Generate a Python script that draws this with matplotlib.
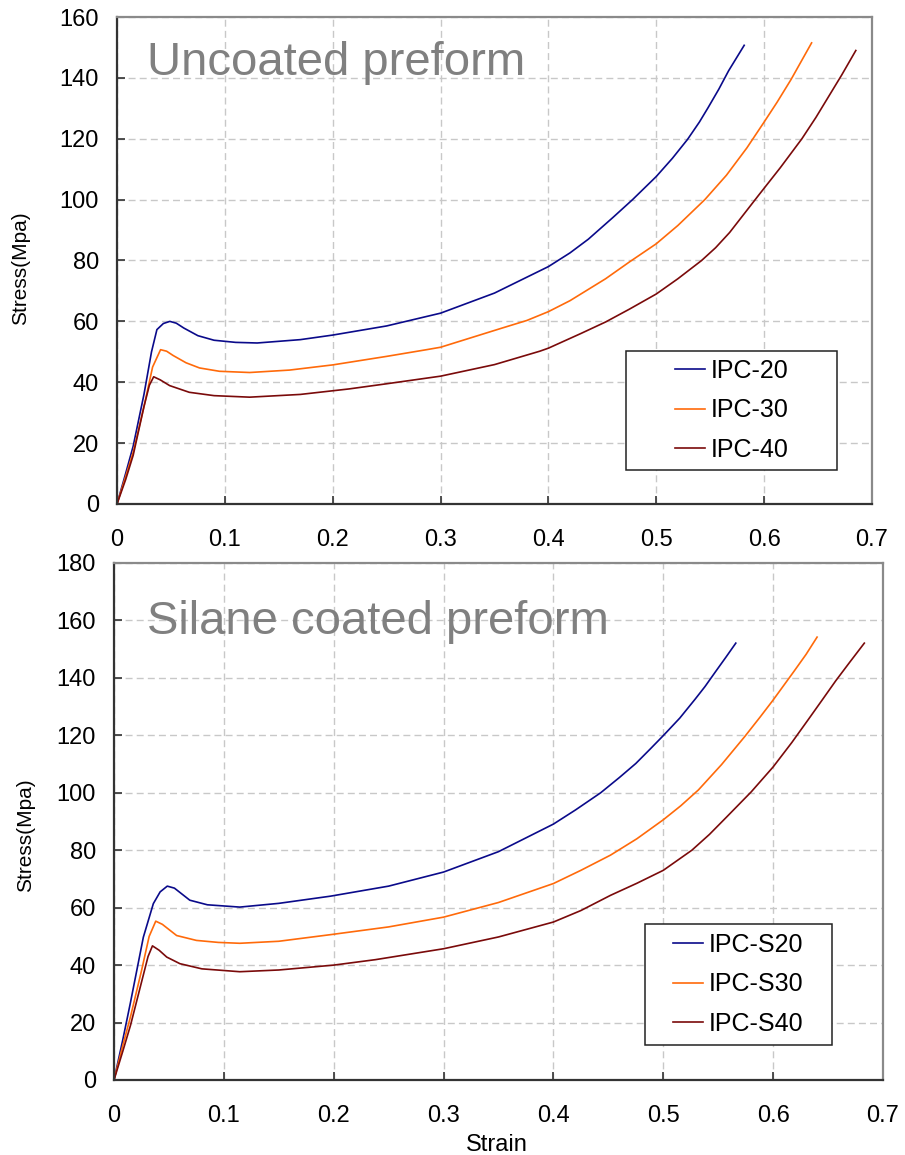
import matplotlib
matplotlib.use("Agg")
import matplotlib.pyplot as plt
from matplotlib.patches import Rectangle

plt.rcParams['font.family'] = ['Liberation Sans', 'DejaVu Sans']

# Uncoated preform curves
strain_20 = [0, 0.008, 0.015, 0.025, 0.032, 0.037, 0.043, 0.049, 0.055, 0.062, 0.075, 0.09,
             0.11, 0.13, 0.17, 0.2, 0.25, 0.3, 0.35, 0.4, 0.42, 0.437, 0.46, 0.478, 0.5,
             0.515, 0.529, 0.54, 0.548, 0.558, 0.567, 0.5815]
stress_20 = [0, 10, 19, 36, 50, 57.3, 59.3, 60, 59.4, 57.8, 55.3, 53.8,
             53.1, 52.9, 54, 55.5, 58.5, 62.7, 69.3, 78, 82.5, 87, 94.2, 100, 107.6,
             113.6, 119.8, 125.5, 130.2, 136.3, 142.3, 150.7]

strain_30 = [0, 0.008, 0.015, 0.025, 0.033, 0.0404, 0.046, 0.052, 0.064, 0.0765, 0.095, 0.123,
             0.16, 0.2, 0.25, 0.287, 0.3, 0.357, 0.38, 0.4, 0.42, 0.453, 0.475, 0.5, 0.52,
             0.545, 0.565, 0.584, 0.6, 0.612, 0.625, 0.644]
stress_30 = [0, 9, 17, 32, 45, 50.7, 50.2, 48.8, 46.4, 44.7, 43.6, 43.2,
             44, 45.7, 48.5, 50.7, 51.5, 57.8, 60.3, 63.2, 66.8, 74, 79.5, 85.5, 91.5,
             100, 108, 117, 125.5, 132, 139.5, 151.5]

strain_40 = [0, 0.008, 0.015, 0.025, 0.030, 0.034, 0.040, 0.0488, 0.067, 0.09, 0.123, 0.17,
             0.215, 0.25, 0.3, 0.35, 0.392, 0.4, 0.43, 0.453, 0.475, 0.5, 0.52, 0.542, 0.555,
             0.568, 0.595, 0.615, 0.635, 0.648, 0.66, 0.672, 0.685]
stress_40 = [0, 8, 16, 32, 39, 41.8, 40.8, 38.9, 36.7, 35.6, 35.1, 36,
             37.8, 39.5, 42, 45.8, 50.2, 51.2, 56, 59.8, 64, 69, 74, 80, 84.2,
             89.2, 101.5, 110.5, 120, 127, 134, 141, 149]

# Silane coated preform curves
strain_s20 = [0, 0.008, 0.015, 0.0267, 0.0358, 0.042, 0.0485, 0.055, 0.069, 0.085, 0.1145,
              0.15, 0.197, 0.25, 0.3, 0.35, 0.4, 0.42, 0.443, 0.46, 0.475, 0.488, 0.5, 0.515,
              0.529, 0.538, 0.548, 0.557, 0.566]
stress_s20 = [0, 14, 27, 49.7, 61.4, 65.5, 67.5, 66.8, 62.6, 61, 60.2,
              61.5, 64, 67.5, 72.4, 79.5, 89.1, 94, 100, 105.3, 110.2, 115.2, 119.9, 126,
              132.6, 137, 142.4, 147.2, 152.1]

strain_s30 = [0, 0.008, 0.015, 0.025, 0.032, 0.038, 0.044, 0.057, 0.075, 0.095, 0.1145,
              0.15, 0.197, 0.25, 0.3, 0.35, 0.4, 0.425, 0.452, 0.476, 0.5, 0.516, 0.532,
              0.553, 0.574, 0.588, 0.6, 0.619, 0.63, 0.64]
stress_s30 = [0, 12, 22, 38, 50, 55.3, 54.2, 50.3, 48.6, 47.9, 47.6,
              48.3, 50.6, 53.3, 56.7, 61.8, 68.4, 73, 78.3, 84, 90.6, 95.5, 101,
              109.8, 119.5, 126.3, 132.3, 142.3, 148.2, 154.2]

strain_s40 = [0, 0.008, 0.015, 0.025, 0.031, 0.035, 0.041, 0.048, 0.06, 0.08, 0.1145,
              0.15, 0.2, 0.238, 0.3, 0.35, 0.4, 0.425, 0.452, 0.476, 0.5, 0.513, 0.526, 0.542,
              0.558, 0.58, 0.6, 0.617, 0.632, 0.645, 0.657, 0.67, 0.683]
stress_s40 = [0, 10, 19, 34, 43, 46.7, 45.2, 42.8, 40.5, 38.7, 37.7,
              38.3, 40, 41.9, 45.7, 49.8, 55, 59, 64.3, 68.5, 73, 76.5, 80, 85.5,
              91.7, 100.3, 109, 117.5, 125.5, 132.5, 139, 145.6, 152.1]

labels_top = ["IPC-20", "IPC-30", "IPC-40"]
labels_bottom = ["IPC-S20", "IPC-S30", "IPC-S40"]
colors = ["#0a0a8a", "#ff6a0a", "#7a0a0a"]
x_ticks = [0, 0.1, 0.2, 0.3, 0.4, 0.5, 0.6, 0.7]
x_ticklabels = ["0", "0.1", "0.2", "0.3", "0.4", "0.5", "0.6", "0.7"]

fig = plt.figure(figsize=(9.05, 11.55), dpi=100)
ax1 = fig.add_axes([117 / 905, 1 - 504 / 1155, 755 / 905, 487 / 1155])
ax2 = fig.add_axes([114 / 905, 1 - 1080 / 1155, 769 / 905, 517 / 1155])


def style_axes(ax, ymax, title, title_pos, legend_box, labels, ylab_pos):
    ax.set_xlim(0, 0.7)
    ax.set_ylim(0, ymax)
    ax.set_xticks(x_ticks)
    ax.set_xticklabels(x_ticklabels)
    ax.set_yticks(range(0, ymax + 1, 20))
    ax.tick_params(direction='in', length=6, width=1.2, labelsize=17, color='#333333')
    ax.tick_params(axis='x', pad=18)
    ax.tick_params(axis='y', pad=13)
    ax.grid(True, color='#c8c8c8', linestyle=(0, (5, 3)), linewidth=1)
    ax.set_axisbelow(True)
    for side in ['left', 'bottom']:
        ax.spines[side].set_color('#333333')
        ax.spines[side].set_linewidth(1.6)
    for side in ['top', 'right']:
        ax.spines[side].set_color('#8a8a8a')
        ax.spines[side].set_linewidth(1.6)
    ax.set_ylabel("Stress(Mpa)", fontsize=15)
    ax.yaxis.set_label_coords(*ylab_pos)
    ax.text(title_pos[0], title_pos[1], title, transform=ax.transAxes, fontsize=34,
            color='#808080', ha='left', va='baseline')
    # legend frame drawn separately so the entries sit centred in a wide box
    x0, y0, x1, y1 = legend_box
    ax.add_patch(Rectangle((x0, y0), x1 - x0, y1 - y0, transform=ax.transAxes,
                           facecolor='white', edgecolor='#222222', linewidth=1.1, zorder=5))
    ax.legend(labels, loc='center', bbox_to_anchor=((x0 + x1) / 2, (y0 + y1) / 2),
              frameon=False, fontsize=18, handlelength=1.2, handletextpad=0.25,
              labelspacing=0.62).set_zorder(6)


for xs, ys, c in zip([strain_20, strain_30, strain_40], [stress_20, stress_30, stress_40], colors):
    ax1.plot(xs, ys, color=c, linewidth=1.2)
for xs, ys, c in zip([strain_s20, strain_s30, strain_s40], [stress_s20, stress_s30, stress_s40], colors):
    ax2.plot(xs, ys, color=c, linewidth=1.2)

style_axes(ax1, 160, "Uncoated preform", (0.04, 0.881), (0.674, 0.070, 0.954, 0.314),
           labels_top, (-0.115, 0.485))
style_axes(ax2, 180, "Silane coated preform", (0.043, 0.862), (0.690, 0.068, 0.934, 0.302),
           labels_bottom, (-0.103, 0.474))

ax2.set_xlabel("Strain", fontsize=17)
ax2.xaxis.set_label_coords(0.498, -0.104)

fig.savefig("out.png", dpi=100)
